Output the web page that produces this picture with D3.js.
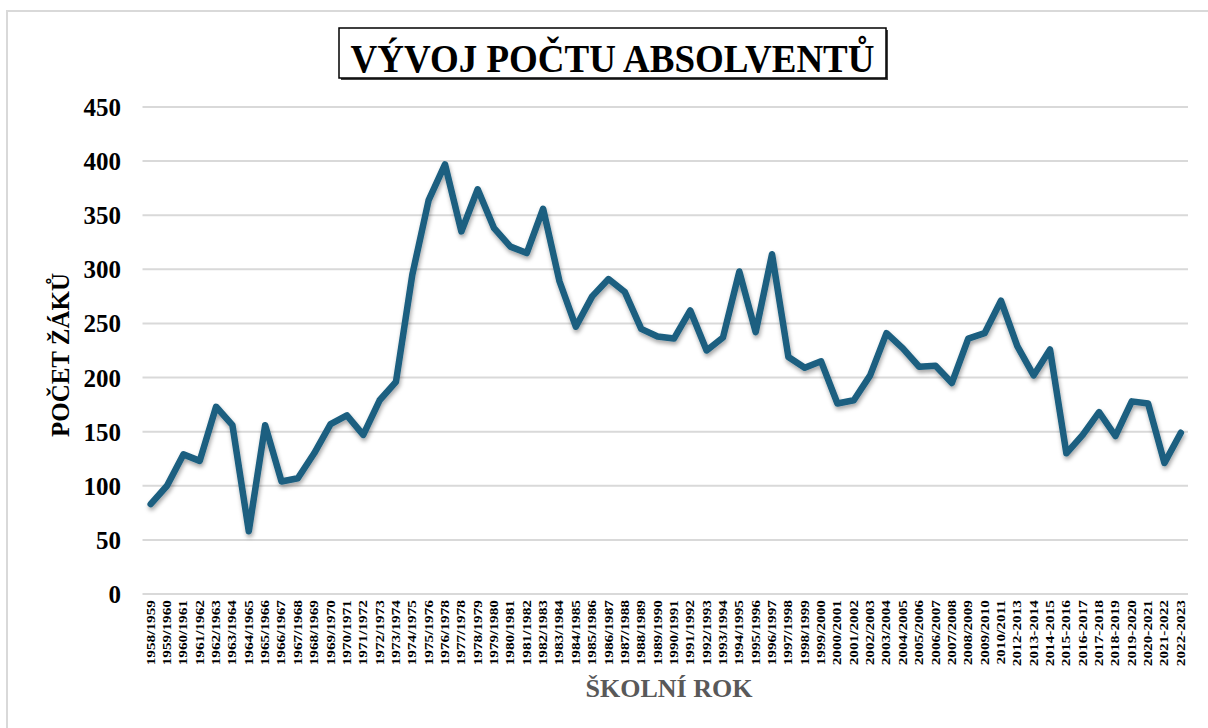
<!DOCTYPE html>
<html>
<head>
<meta charset="utf-8">
<script src="https://cdn.jsdelivr.net/npm/d3@7"></script>
<style>
  html, body { margin: 0; padding: 0; background: #fff; }
  svg { display: block; }
  text { font-family: "Liberation Serif", "Times New Roman", serif; font-weight: bold; }
</style>
</head>
<body>
<script>
const categories = [
  "1958/1959","1959/1960","1960/1961","1961/1962","1962/1963","1963/1964","1964/1965","1965/1966",
  "1966/1967","1967/1968","1968/1969","1969/1970","1970/1971","1971/1972","1972/1973","1973/1974",
  "1974/1975","1975/1976","1976/1978","1977/1978","1978/1979","1979/1980","1980/1981","1981/1982",
  "1982/1983","1983/1984","1984/1985","1985/1986","1986/1987","1987/1988","1988/1989","1989/1990",
  "1990/1991","1991/1992","1992/1993","1993/1994","1994/1995","1995/1996","1996/1997","1997/1998",
  "1998/1999","1999/2000","2000/2001","2001/2002","2002/2003","2003/2004","2004/2005","2005/2006",
  "2006/2007","2007/2008","2008/2009","2009/2010","2010/2011","2012-2013","2013-2014","2014-2015",
  "2015-2016","2016-2017","2017-2018","2018-2019","2019-2020","2020-2021","2021-2022","2022-2023"
];
const values = [
  83, 100, 129, 123, 173, 156, 58, 156,
  104, 107, 130, 157, 165, 147, 179, 196,
  295, 364, 397, 335, 374, 338, 321, 315,
  356, 289, 247, 275, 291, 279, 245, 238,
  236, 262, 225, 237, 298, 242, 314, 219,
  209, 215, 176, 179, 202, 241, 227, 210,
  211, 195, 236, 241, 271, 229, 202, 226,
  130, 147, 168, 146, 178, 176, 121, 149
];
const yTicks = [0, 50, 100, 150, 200, 250, 300, 350, 400, 450];
const chartTitle = "VÝVOJ POČTU ABSOLVENTŮ";
const yTitle = "POČET ŽÁKŮ";
const xTitle = "ŠKOLNÍ ROK";

const W = 1208, H = 728;
const svg = d3.select("body").append("svg").attr("width", W).attr("height", H);

const defs = svg.append("defs");
const f = defs.append("filter").attr("id", "shadow").attr("x", "-5%").attr("y", "-5%").attr("width", "110%").attr("height", "120%");
f.append("feDropShadow").attr("dx", 1).attr("dy", 3).attr("stdDeviation", 2.2).attr("flood-color", "#000").attr("flood-opacity", 0.35);

// outer chart border
svg.append("rect").attr("x", 7).attr("y", 11).attr("width", W).attr("height", H)
  .attr("fill", "#fff").attr("stroke", "#d9d9d9").attr("stroke-width", 2);

const plot = { left: 142.5, right: 1189, top: 107, bottom: 594 };

const x = d3.scaleBand().domain(categories).range([plot.left, plot.right]).padding(0);
const y = d3.scaleLinear().domain([0, 450]).range([plot.bottom, plot.top]);

// gridlines
svg.append("g").selectAll("line").data(yTicks).join("line")
  .attr("x1", plot.left).attr("x2", plot.right - 1)
  .attr("y1", d => y(d)).attr("y2", d => y(d))
  .attr("stroke", "#d9d9d9").attr("stroke-width", 2);

// y axis labels
const yAxis = d3.axisLeft(y).tickValues(yTicks).tickSize(0).tickPadding(0);
const yg = svg.append("g").attr("transform", `translate(121,0)`).call(yAxis);
yg.select(".domain").remove();
yg.selectAll("text").attr("font-size", 25).attr("font-family", "Liberation Serif, serif")
  .attr("font-weight", "bold").attr("fill", "#000").attr("dy", "0.34em");

// x axis labels
const xAxis = d3.axisBottom(x).tickSize(0).tickPadding(0);
const xg = svg.append("g").attr("transform", `translate(0,${plot.bottom})`).call(xAxis);
xg.select(".domain").remove();
xg.selectAll(".tick text")
  .attr("font-size", 11.5).attr("font-family", "Liberation Serif, serif").attr("font-weight", "bold")
  .attr("fill", "#000").attr("text-anchor", "end").attr("y", 0).attr("dy", 0)
  .attr("transform", "translate(4,6) rotate(-90) scale(1.33,1)");

// line
const line = d3.line().x((d, i) => x(categories[i]) + x.bandwidth() / 2).y(d => y(d));
svg.append("path").datum(values).attr("d", line)
  .attr("fill", "none").attr("stroke", "#1a5f80").attr("stroke-width", 6.5)
  .attr("stroke-linejoin", "round").attr("stroke-linecap", "round")
  .attr("filter", "url(#shadow)");

// title box
const tb = { x: 339, y: 28, w: 547, h: 50 };
svg.append("rect").attr("x", tb.x + 2).attr("y", tb.y + 2).attr("width", tb.w).attr("height", tb.h).attr("fill", "#444");
svg.append("rect").attr("x", tb.x).attr("y", tb.y).attr("width", tb.w).attr("height", tb.h)
  .attr("fill", "#fff").attr("stroke", "#000").attr("stroke-width", 1.5);
svg.append("text").attr("transform", `translate(${tb.x + tb.w / 2},72) scale(1,1.1)`).attr("text-anchor", "middle")
  .attr("font-size", 37).attr("fill", "#000").text(chartTitle);

// y title
svg.append("text").attr("transform", "translate(69,355) rotate(-90)").attr("text-anchor", "middle")
  .attr("font-size", 25).attr("fill", "#000").text(yTitle);

// x title
svg.append("text").attr("x", 669).attr("y", 697).attr("text-anchor", "middle")
  .attr("font-size", 26).attr("fill", "#595959").text(xTitle);
</script>
</body>
</html>
